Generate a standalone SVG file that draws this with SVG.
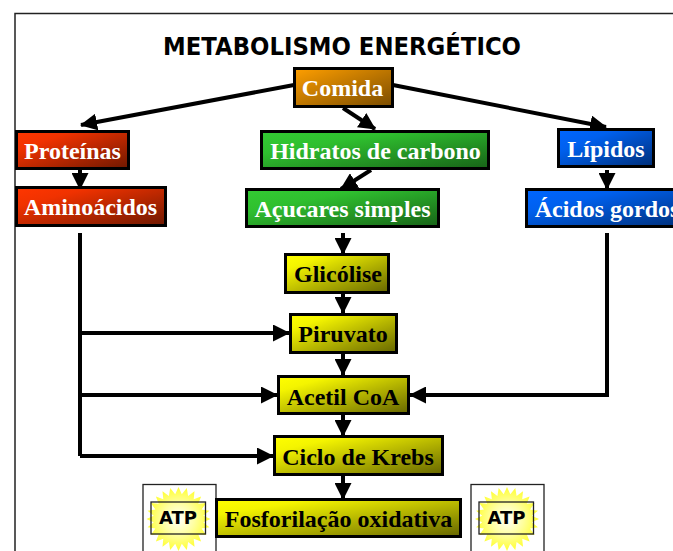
<svg xmlns="http://www.w3.org/2000/svg" width="673" height="551" viewBox="0 0 673 551">
<style>
.box{stroke:#000;stroke-width:3}
.t{font-family:"Liberation Serif","Times New Roman",serif;font-weight:700;font-size:24px;text-anchor:middle}
.w{fill:#fff}.k{fill:#000}
.line{fill:none;stroke:#000;stroke-width:4}
.frame{fill:#fff;stroke:#222;stroke-width:1.300}
.atp{font-family:"DejaVu Sans",sans-serif;font-weight:700;font-size:18px;text-anchor:middle;fill:#000}
</style>
<defs>
<linearGradient id="o" x1="0" y1="0" x2="1" y2="1"><stop offset="0" stop-color="#ff9f00"/><stop offset="1" stop-color="#7a4c00"/></linearGradient>
<linearGradient id="r" x1="0" y1="0" x2="1" y2="1"><stop offset="0" stop-color="#ff3600"/><stop offset=".25" stop-color="#f03200"/><stop offset="1" stop-color="#6e1800"/></linearGradient>
<linearGradient id="g" x1="0" y1="0" x2="1" y2="1"><stop offset="0" stop-color="#33cc33"/><stop offset=".3" stop-color="#2fbf2f"/><stop offset="1" stop-color="#176317"/></linearGradient>
<linearGradient id="b" x1="0" y1="0" x2="1" y2="1"><stop offset="0" stop-color="#0066ff"/><stop offset=".3" stop-color="#0060ee"/><stop offset="1" stop-color="#002f78"/></linearGradient>
<linearGradient id="y" x1="0" y1="0" x2="1" y2="1"><stop offset="0" stop-color="#ffff00"/><stop offset=".2" stop-color="#f4f400"/><stop offset="1" stop-color="#666600"/></linearGradient>
<radialGradient id="s"><stop offset="0" stop-color="#ffffff"/><stop offset=".5" stop-color="#ffffa0"/><stop offset="1" stop-color="#ffff33"/></radialGradient>
<marker id="a" viewBox="0 0 17 17" refX="16" refY="8.500" markerWidth="17" markerHeight="17" markerUnits="userSpaceOnUse" orient="auto"><path d="M0 0L17 8.500L0 17z"/></marker>
<polygon id="sun" fill="url(#s)" points="0,-32 3.300,-24.800 8.300,-30.900 9.600,-23.100 16,-27.700 15.200,-19.800 22.600,-22.600 19.800,-15.200 27.700,-16 23.100,-9.600 30.900,-8.300 24.800,-3.300 32,0 24.800,3.300 30.900,8.300 23.100,9.600 27.700,16 19.800,15.200 22.600,22.600 15.200,19.800 16,27.700 9.600,23.100 8.300,30.900 3.300,24.800 0,32 -3.300,24.800 -8.300,30.900 -9.600,23.100 -16,27.700 -15.200,19.800 -22.600,22.600 -19.800,15.200 -27.700,16 -23.100,9.600 -30.900,8.300 -24.800,3.300 -32,0 -24.800,-3.300 -30.900,-8.300 -23.100,-9.600 -27.700,-16 -19.800,-15.200 -22.600,-22.600 -15.200,-19.800 -16,-27.700 -9.600,-23.100 -8.300,-30.900 -3.300,-24.800"/>
</defs>
<rect width="673" height="551" fill="#fff"/>
<path d="M15 551V13.500H673" fill="none" stroke="#222" stroke-width="1.500"/>
<text x="342" y="55" font-family="'DejaVu Sans',sans-serif" font-weight="700" font-size="24" text-anchor="middle" textLength="358" lengthAdjust="spacingAndGlyphs">METABOLISMO ENERGÉTICO</text>
<g id="connectors">
<path class="line" marker-end="url(#a)" d="M294 85L81 125"/>
<path class="line" marker-end="url(#a)" d="M343 108L375 129"/>
<path class="line" marker-end="url(#a)" d="M393 85L606 127"/>
<path class="line" marker-end="url(#a)" d="M80 170V189"/>
<path class="line" marker-end="url(#a)" d="M371 170L341 189"/>
<path class="line" marker-end="url(#a)" d="M607 170V189"/>
<path class="line" marker-end="url(#a)" d="M343 233V254"/>
<path class="line" marker-end="url(#a)" d="M343 293V313"/>
<path class="line" marker-end="url(#a)" d="M343 353V375"/>
<path class="line" marker-end="url(#a)" d="M343 415V436"/>
<path class="line" marker-end="url(#a)" d="M343 476V499"/>
<path class="line" d="M80 233V456"/>
<path class="line" marker-end="url(#a)" d="M80 333H289"/>
<path class="line" marker-end="url(#a)" d="M80 395H277"/>
<path class="line" marker-end="url(#a)" d="M80 456H273"/>
<path class="line" marker-end="url(#a)" d="M607 233V395H410"/>
</g>
<g id="comida"><rect class="box" x="294.500" y="68.500" width="98" height="38" fill="url(#o)"/><text class="t w" x="342.500" y="96">Comida</text></g>
<g id="proteinas"><rect class="box" x="16.500" y="131.500" width="112" height="37" fill="url(#r)"/><text class="t w" x="72.500" y="159">Proteínas</text></g>
<g id="aminoacidos"><rect class="box" x="16.500" y="187.500" width="149" height="38" fill="url(#r)"/><text class="t w" x="90.500" y="215">Aminoácidos</text></g>
<g id="hidratos"><rect class="box" x="261.500" y="131.500" width="227" height="37" fill="url(#g)"/><text class="t w" x="375.500" y="159">Hidratos de carbono</text></g>
<g id="acucares"><rect class="box" x="246.500" y="189.500" width="192" height="37" fill="url(#g)"/><text class="t w" x="342.500" y="217">Açucares simples</text></g>
<g id="lipidos"><rect class="box" x="558.500" y="129.500" width="95" height="37" fill="url(#b)"/><text class="t w" x="606" y="157">Lípidos</text></g>
<g id="acidos"><rect class="box" x="526.500" y="189.500" width="160" height="37" fill="url(#b)"/><text class="t w" x="607" y="217">Ácidos gordos</text></g>
<g id="glicolise"><rect class="box" x="285.500" y="254.500" width="103" height="38" fill="url(#y)"/><text class="t k" x="338" y="282">Glicólise</text></g>
<g id="piruvato"><rect class="box" x="290.500" y="314.500" width="106" height="38" fill="url(#y)"/><text class="t k" x="343" y="342">Piruvato</text></g>
<g id="acetil"><rect class="box" x="278.500" y="376.500" width="130" height="37" fill="url(#y)"/><text class="t k" x="343" y="405">Acetil CoA</text></g>
<g id="krebs"><rect class="box" x="274.500" y="436.500" width="168" height="38" fill="url(#y)"/><text class="t k" x="358" y="465">Ciclo de Krebs</text></g>
<g id="atp-left"><rect class="frame" x="143" y="484.500" width="73" height="70"/><use href="#sun" x="178.500" y="519"/><rect x="151" y="502" width="54.500" height="32" fill="none" stroke="#222" stroke-width="1.300"/><text class="atp" x="178" y="524">ATP</text></g>
<g id="atp-right"><rect class="frame" x="471" y="484.500" width="73" height="70"/><use href="#sun" x="507" y="519"/><rect x="479" y="502" width="54.500" height="32" fill="none" stroke="#222" stroke-width="1.300"/><text class="atp" x="506.500" y="524">ATP</text></g>
<g id="fosforilacao"><rect class="box" x="216.500" y="499.500" width="244" height="37" fill="url(#y)"/><text class="t k" x="338.500" y="527">Fosforilação oxidativa</text></g>
</svg>
